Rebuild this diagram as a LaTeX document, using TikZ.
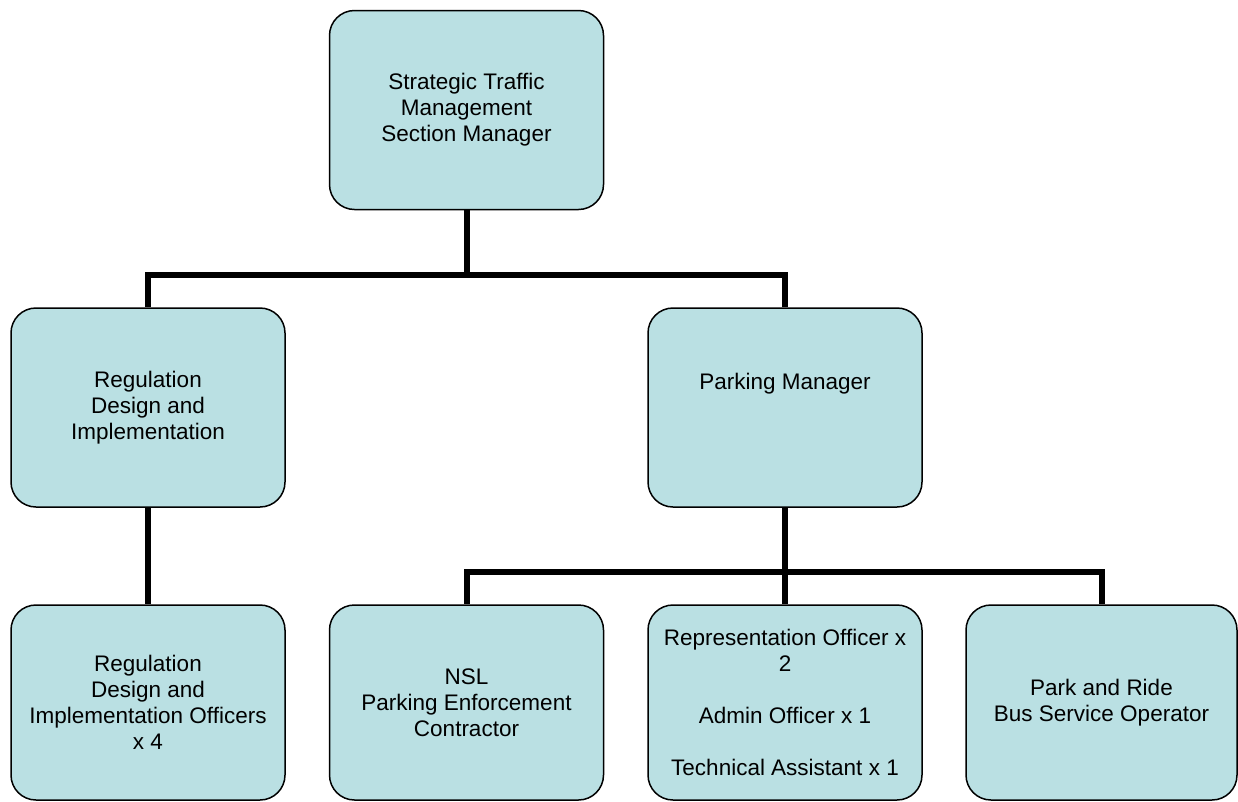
\documentclass[tikz,border=0pt]{standalone}
\usepackage{fontspec}
\setmainfont{Liberation Sans}
\usepackage{tikz}
\usetikzlibrary{positioning}

\definecolor{boxfill}{RGB}{186,224,227}

\begin{document}
\begin{tikzpicture}[
            x=1pt, y=-1pt,
            post/.style = {rectangle, rounded corners=25pt, draw, line width=1.5pt, fill=boxfill,
                           minimum width=274pt, minimum height=199pt, align=center,
                           font=\fontsize{22.5}{26}\selectfont},
            low/.style = {post, minimum height=195pt},
            conn/.style = {draw, line width=6pt},
        ]
            \useasboundingbox (0,0) rectangle (1238,801);

            % Top level
            \node[post] (head) at (466.5,110) {Strategic Traffic\\Management\\Section Manager};

            % Second level
            \node[post] (reg) at (148,407.5) {Regulation\\Design and\\Implementation};
            \node[post] (park) at (785,407.5) {Parking Manager\\~\\~};

            % Third level
            \node[low] (regoff) at (148,702.5) {Regulation\\Design and\\Implementation Officers\\x 4};
            \node[low] (nsl) at (466.5,702.5) {NSL\\Parking Enforcement\\Contractor};
            \node[low] (rep) at (785,702.5) {Representation Officer x\\2\\~\\Admin Officer x 1\\~\\Technical Assistant x 1};
            \node[low, minimum width=271pt] (ride) at (1101.5,702.5) {Park and Ride\\Bus Service Operator};

            % Branch points
            \coordinate (split1) at (466.5,275);
            \coordinate (split2) at (785,572);

            % Lines from the section manager
            \draw[conn] (head) -- (split1);
            \draw[conn] (split1) -| (reg);
            \draw[conn] (split1) -| (park);

            % Line under regulation
            \draw[conn] (reg) -- (regoff);

            % Lines from the parking manager
            \draw[conn] (park) -- (split2);
            \draw[conn] (split2) -| (nsl);
            \draw[conn] (split2) -- (rep);
            \draw[conn] (split2) -| (ride);

        \end{tikzpicture}
\end{document}
